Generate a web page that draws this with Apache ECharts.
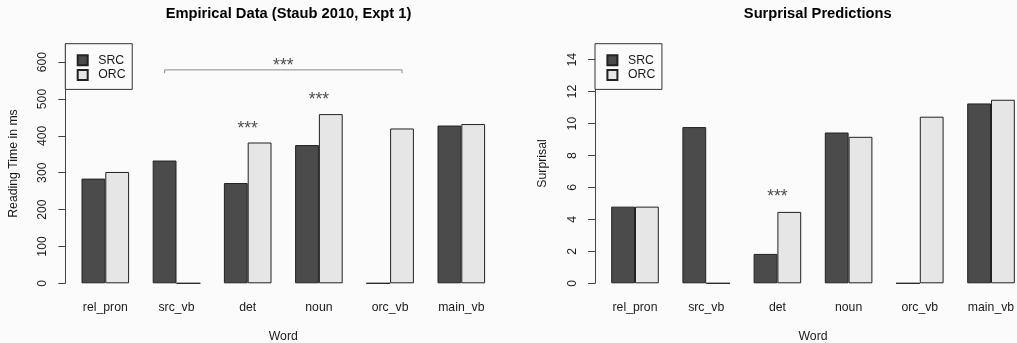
<!DOCTYPE html>
<html>
<head>
<meta charset="utf-8">
<script src="https://cdn.jsdelivr.net/npm/echarts@6/dist/echarts.min.js"></script>
<style>
  html, body { margin: 0; padding: 0; background: #fbfbfb; }
  #chart { width: 1017px; height: 343px; }
</style>
</head>
<body>
<div id="chart"></div>
<script>
// ---- data ----
const categories = ['rel_pron', 'src_vb', 'det', 'noun', 'orc_vb', 'main_vb'];
const seriesNames = ['SRC', 'ORC'];
const rtSRC = [284, 333, 272, 375, 0, 428];
const rtORC = [302, 0, 382, 459, 420, 432];
const surpSRC = [4.80, 9.78, 1.84, 9.44, 0, 11.26];
const surpORC = [4.80, 0, 4.47, 9.17, 10.43, 11.49];
const rtTicks = [0, 100, 200, 300, 400, 500, 600];
const surpTicks = [0, 2, 4, 6, 8, 10, 12, 14];
// significance markers: [category, value]
const rtStars = [['det', 419], ['noun', 496]];
const surpStars = [['det', 5.4]];
// bracket: [fromCategory, fromSeries, toCategory, toSeries, level, tickDrop, starLevel]
const rtBracket = ['src_vb', 'SRC', 'orc_vb', 'ORC', 579, 9, 590];

const titles = ['Empirical Data (Staub 2010, Expt 1)', 'Surprisal Predictions'];
const yNames = ['Reading Time in ms', 'Surprisal'];

// ---- layout ----
const band = 71.2;
const barW = 23.8;
const halfBarFrac = (barW / 2) / band;
const FONT = '"Liberation Sans", Arial, Helvetica, sans-serif';
const fs = 12.25;
const txt = '#1a1a1a';
const gridTop = 43.7, gridBottom = 343 - 283.3;
const grids = [
  { left: 69.7, top: gridTop, width: band * 6, bottom: gridBottom, containLabel: false, outerBoundsMode: 'none' },
  { left: 599.4, top: gridTop, width: band * 6, bottom: gridBottom, containLabel: false, outerBoundsMode: 'none' }
];
const axisLeft = [65.3, 595];
const centers = [283.5, 812.7];

function catX(cat, ser) {
  return categories.indexOf(cat) + (ser === 'SRC' ? -halfBarFrac : ser === 'ORC' ? halfBarFrac : 0);
}

const chart = echarts.init(document.getElementById('chart'), null, { renderer: 'canvas' });

const xAxes = [];
const yAxes = [];
[0, 1].forEach(g => {
  xAxes.push({
    type: 'category', gridIndex: g, data: categories,
    axisLine: { show: false }, axisTick: { show: false }, splitLine: { show: false },
    axisLabel: { fontFamily: FONT, fontSize: fs, color: txt, margin: 18.5, interval: 0 },
    name: 'Word', nameLocation: 'middle', nameGap: 47,
    nameTextStyle: { fontFamily: FONT, fontSize: fs, color: txt }
  });
});
[0, 1].forEach(g => {
  xAxes.push({ type: 'value', gridIndex: g, min: -0.5, max: 5.5, show: false });
});
const yCfg = [
  { max: 650, ticks: rtTicks },
  { max: 15, ticks: surpTicks }
];
[0, 1].forEach(g => {
  yAxes.push({
    type: 'value', gridIndex: g, min: 0, max: yCfg[g].max,
    offset: grids[g].left - axisLeft[g],
    axisLine: { show: true, onZero: false, lineStyle: { color: '#444', width: 1 } },
    axisTick: { show: true, length: 7, lineStyle: { color: '#444' }, customValues: yCfg[g].ticks },
    axisLabel: { rotate: 90, margin: 16.5, fontFamily: FONT, fontSize: fs, color: txt, customValues: yCfg[g].ticks },
    splitLine: { show: false },
    name: yNames[g], nameLocation: 'middle', nameGap: 46,
    nameTextStyle: { fontFamily: FONT, fontSize: fs, color: txt }
  });
});

const barStyle = {
  SRC: { color: '#4b4b4b', borderColor: '#222', borderWidth: 1 },
  ORC: { color: '#e6e6e6', borderColor: '#222', borderWidth: 1 }
};
const series = [];
const dataSets = [[rtSRC, rtORC], [surpSRC, surpORC]];
[0, 1].forEach(g => {
  seriesNames.forEach((nm, i) => {
    series.push({
      type: 'bar', name: nm, xAxisIndex: g, yAxisIndex: g,
      data: dataSets[g][i], barWidth: barW, barGap: '0%',
      itemStyle: barStyle[nm], silent: true, animation: false
    });
  });
});

// bracket
const bx0 = catX(rtBracket[0], rtBracket[1]);
const bx1 = catX(rtBracket[2], rtBracket[3]);
series.push({
  type: 'line', xAxisIndex: 2, yAxisIndex: 0, symbol: 'none', silent: true, animation: false,
  lineStyle: { color: '#8a8a8a', width: 1 },
  data: [[bx0, rtBracket[4] - rtBracket[5]], [bx0, rtBracket[4]], [bx1, rtBracket[4]], [bx1, rtBracket[4] - rtBracket[5]]]
});

const starLabel = {
  show: true, position: 'inside', formatter: '***',
  fontFamily: FONT, fontSize: 17.5, color: '#222'
};
series.push({
  type: 'scatter', xAxisIndex: 2, yAxisIndex: 0, symbolSize: 0, silent: true, animation: false,
  label: starLabel,
  data: rtStars.map(s => [catX(s[0]), s[1]]).concat([[(bx0 + bx1) / 2, rtBracket[6]]])
});
series.push({
  type: 'scatter', xAxisIndex: 3, yAxisIndex: 1, symbolSize: 0, silent: true, animation: false,
  label: starLabel,
  data: surpStars.map(s => [catX(s[0]), s[1]])
});

const legends = [0, 1].map(g => ({
  data: seriesNames, orient: 'vertical', left: axisLeft[g], top: gridTop,
  padding: [9.3, 6.7, 7, 11.4], itemWidth: 10, itemHeight: 10, itemGap: 0,
  borderColor: '#333', borderWidth: 1, backgroundColor: '#fbfbfb',
  icon: 'rect', selectedMode: false,
  textStyle: { fontFamily: FONT, fontSize: fs, color: txt, lineHeight: 14.7, padding: [0, 0, 0, 5.6] }
}));

const titleCfg = [0, 1].map(g => ({
  text: titles[g], left: centers[g], top: 1.5, textAlign: 'center',
  textStyle: { fontFamily: FONT, fontSize: 14.7, fontWeight: 'bold', color: '#000' }
}));

chart.setOption({
  backgroundColor: '#fbfbfb',
  animation: false,
  title: titleCfg,
  legend: legends,
  grid: grids,
  xAxis: xAxes,
  yAxis: yAxes,
  series: series
});
</script>
</body>
</html>
